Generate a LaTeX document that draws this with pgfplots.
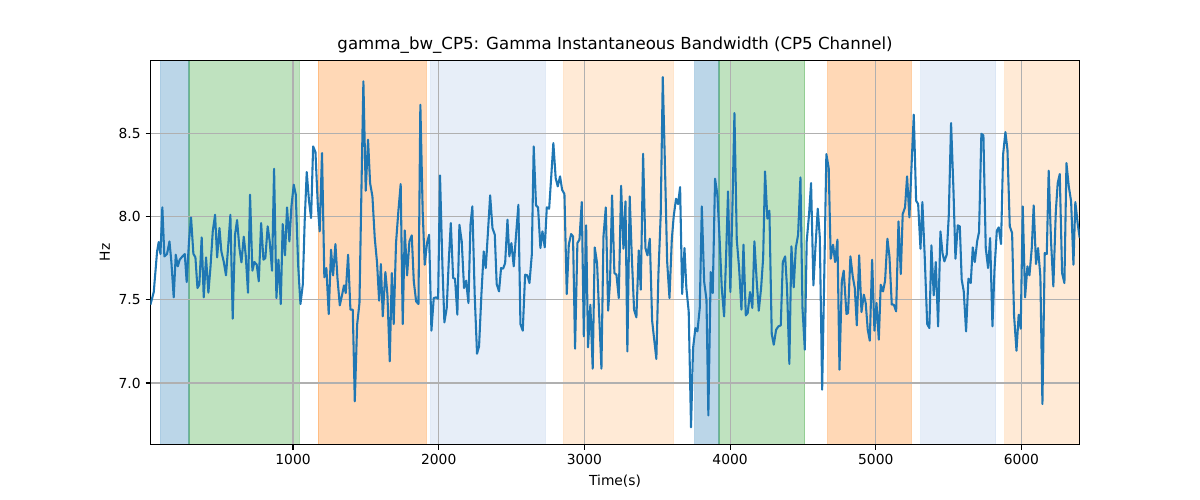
\documentclass[border=0pt]{standalone}
\usepackage{fontspec}
\setmainfont{DejaVu Sans}
\usepackage{pgfplots}
\usepackage{pgfplotstable}
\pgfplotsset{compat=1.18}
\definecolor{tabblue}{HTML}{1F77B4}
\definecolor{tablightblue}{HTML}{AEC7E8}
\definecolor{taborange}{HTML}{FF7F0E}
\definecolor{tablightorange}{HTML}{FFBB78}
\definecolor{tabgreen}{HTML}{2CA02C}
\definecolor{gridgray}{HTML}{B0B0B0}
\pgfplotstableread{
x y
21 7.47
44 7.546
67 7.79
78 7.846
90 7.774
103 8.054
117 7.76
135 7.774
152 7.85
165 7.726
181 7.514
195 7.77
209 7.70
222 7.74
241 7.76
257 7.774
270 7.606
286 7.85
300 7.994
316 7.776
330 7.754
344 7.57
357 7.59
373 7.874
387 7.514
403 7.754
419 7.542
433 7.69
449 7.91
465 8.01
479 7.754
495 7.93
508 7.79
524 7.73
540 7.646
554 7.81
570 8.01
586 7.386
602 7.89
616 7.978
632 7.81
646 7.724
662 7.878
675 7.77
691 7.542
705 8.13
721 7.674
735 7.726
751 7.71
765 7.61
781 7.96
797 7.74
810 7.75
826 7.94
840 7.85
856 7.674
870 8.286
886 7.51
900 7.74
916 7.474
929 7.954
945 7.766
959 8.054
975 7.85
989 8.06
1005 8.19
1019 8.13
1035 7.71
1051 7.474
1067 7.59
1080 7.97
1094 8.266
1110 8.09
1124 7.99
1138 8.42
1154 8.386
1170 8.07
1183 7.91
1199 8.38
1215 7.634
1229 7.69
1245 7.414
1261 7.80
1275 7.646
1291 7.834
1305 7.63
1321 7.466
1337 7.53
1350 7.586
1362 7.54
1378 7.77
1394 7.44
1410 7.44
1424 6.89
1440 7.35
1456 7.48
1469 8.13
1483 8.81
1499 8.154
1515 8.46
1529 8.20
1545 8.12
1561 7.87
1577 7.72
1591 7.494
1603 7.714
1616 7.40
1634 7.666
1648 7.53
1664 7.13
1678 7.66
1691 7.354
1707 7.84
1723 8.03
1739 8.194
1753 7.354
1767 7.916
1783 7.646
1799 7.85
1815 7.886
1829 7.61
1845 7.49
1861 7.474
1874 8.67
1890 8.03
1904 7.71
1920 7.84
1934 7.89
1950 7.314
1966 7.51
1982 7.514
1996 7.506
2009 8.246
2026 7.69
2039 7.364
2055 7.45
2069 7.73
2083 7.96
2099 7.63
2112 7.626
2128 7.41
2142 7.95
2158 7.85
2174 7.57
2188 7.614
2204 7.48
2218 7.95
2231 8.06
2247 7.53
2263 7.176
2277 7.22
2293 7.53
2309 7.79
2323 7.69
2339 7.92
2353 8.126
2369 7.93
2385 7.89
2398 7.594
2414 7.55
2428 7.69
2442 7.686
2456 7.72
2472 7.98
2485 7.76
2499 7.84
2515 7.70
2531 7.89
2547 8.07
2561 7.354
2577 7.314
2593 7.65
2609 7.646
2623 7.60
2639 7.77
2652 8.42
2668 8.066
2682 8.054
2698 7.81
2712 7.91
2728 7.814
2742 8.054
2758 8.046
2774 8.26
2787 8.44
2803 8.23
2817 8.18
2833 8.24
2847 8.16
2863 8.134
2879 7.534
2893 7.83
2909 7.894
2922 7.88
2936 7.206
2952 7.84
2966 7.86
2982 8.086
2996 7.28
3012 7.946
3025 7.214
3041 7.47
3057 7.086
3071 7.814
3087 7.72
3101 7.42
3117 7.086
3131 7.88
3147 8.054
3163 7.434
3176 7.61
3190 8.126
3206 7.66
3220 7.65
3236 7.51
3252 8.184
3268 7.806
3282 8.09
3295 7.19
3311 8.12
3325 7.77
3341 7.44
3357 7.394
3373 7.796
3387 7.56
3403 8.376
3419 7.81
3433 7.766
3449 7.866
3465 7.374
3478 7.27
3494 7.144
3508 7.65
3524 8.014
3538 8.836
3554 8.27
3568 7.73
3584 7.51
3600 7.86
3613 8.0
3629 8.106
3643 8.074
3657 8.176
3671 7.534
3687 7.81
3700 7.57
3716 7.43
3732 6.734
3746 7.21
3762 7.33
3776 7.31
3792 7.45
3806 8.06
3822 7.61
3838 7.50
3851 6.806
3867 7.666
3881 7.54
3897 8.226
3913 8.13
3929 7.85
3943 7.57
3959 7.40
3973 7.77
3986 8.15
4002 7.546
4016 8.05
4030 8.62
4046 7.86
4062 7.69
4078 7.44
4092 7.83
4108 7.406
4121 7.42
4137 7.546
4153 7.45
4167 7.85
4183 7.61
4197 7.434
4213 7.57
4227 7.75
4240 8.27
4256 7.986
4270 8.034
4286 7.294
4300 7.23
4316 7.32
4332 7.34
4348 7.346
4362 7.726
4378 7.76
4391 7.57
4407 7.114
4421 7.82
4437 7.574
4451 7.81
4467 7.89
4483 8.234
4497 7.45
4513 7.20
4526 7.85
4542 8.01
4556 8.20
4572 7.586
4586 7.814
4602 8.046
4616 7.874
4632 6.96
4645 7.57
4661 8.374
4677 8.29
4691 7.746
4707 7.83
4721 7.726
4737 7.86
4751 7.08
4767 7.61
4780 7.674
4799 7.414
4810 7.42
4826 7.76
4842 7.64
4856 7.57
4870 7.346
4886 7.766
4902 7.426
4918 7.53
4931 7.48
4945 7.32
4959 7.254
4975 7.74
4991 7.314
5005 7.48
5021 7.26
5034 7.59
5050 7.55
5064 7.614
5080 7.866
5094 7.76
5110 7.47
5124 7.47
5140 7.43
5156 7.97
5172 7.654
5185 8.014
5201 8.054
5215 8.24
5231 7.994
5245 8.29
5261 8.61
5277 8.094
5291 8.074
5307 7.806
5320 8.086
5336 7.76
5353 7.354
5368 7.33
5382 7.826
5398 7.526
5412 7.726
5428 7.34
5444 7.91
5458 7.78
5471 7.73
5487 7.77
5501 8.0
5517 8.56
5533 8.17
5547 7.746
5563 7.946
5577 7.94
5590 7.62
5604 7.55
5620 7.31
5636 7.626
5652 7.60
5666 7.814
5680 7.726
5696 7.85
5709 7.906
5725 8.496
5739 8.486
5755 7.81
5771 7.69
5785 7.87
5801 7.34
5815 7.68
5831 7.914
5844 7.934
5860 7.834
5874 8.37
5890 8.506
5904 8.40
5920 7.94
5936 7.90
5949 7.41
5966 7.194
5981 7.41
5995 7.326
6009 8.06
6025 7.514
6041 7.70
6055 7.646
6071 7.81
6084 8.066
6100 7.714
6114 7.81
6130 7.64
6144 6.874
6160 7.78
6174 7.774
6187 8.274
6203 7.854
6219 7.58
6236 8.03
6249 8.20
6263 8.254
6279 7.66
6295 7.60
6309 8.32
6325 8.18
6341 8.09
6357 7.71
6370 8.086
6387 7.95
6400 7.87
}\datatable
\pgfplotsset{
  band/.style={fill=#1, fill opacity=0.3, draw=#1, draw opacity=0.3, line width=0.8pt, forget plot, on layer=axis background},
  every axis title/.style={at={(0.5,1)}, anchor=center, yshift=0.148in},
}
\begin{document}
\begin{tikzpicture}
\path (0,0) rectangle (12in,5in);
\begin{axis}[
  set layers=standard,
  scale only axis,
  width=9.293in, height=3.843in,
  at={(1.504in,0.553in)}, anchor=south west,
  xmin=21, xmax=6400, ymin=6.63, ymax=8.936,
  xtick={1000,2000,3000,4000,5000,6000},
  ytick={7,7.5,8,8.5},
  /pgf/number format/assume math mode=true,
  /pgf/number format/1000 sep={},
  yticklabel style={/pgf/number format/.cd, fixed, fixed zerofill, precision=1},
  scaled x ticks=false, scaled y ticks=false,
  tick pos=left,
  tick align=outside,
  major tick length=3.5pt,
  tick style={black, line width=0.8pt},
  axis line style={line width=0.8pt},
  grid=major,
  grid style={color=gridgray, line width=0.8pt},
  ticklabel style={font=\fontsize{10}{12}\selectfont},
  xlabel={Time(s)}, ylabel={Hz},
  label style={font=\fontsize{10}{12}\selectfont},
  xlabel style={at={(axis description cs:0.5,0)}, anchor=center, yshift=-0.36in},
  ylabel style={at={(axis description cs:-0.049,0.5)}, anchor=center},
  title={gamma\_bw\_CP5: Gamma Instantaneous Bandwidth (CP5 Channel)},
  title style={font=\fontsize{12}{14}\selectfont},
  clip=true,
]
\addplot[band=tabblue] coordinates {(92,6.63) (286,6.63) (286,8.936) (92,8.936) (92,6.63)};
\addplot[band=tabgreen] coordinates {(286,6.63) (1044,6.63) (1044,8.936) (286,8.936) (286,6.63)};
\addplot[band=taborange] coordinates {(1172,6.63) (1916,6.63) (1916,8.936) (1172,8.936) (1172,6.63)};
\addplot[band=tablightblue] coordinates {(1945,6.63) (2733,6.63) (2733,8.936) (1945,8.936) (1945,6.63)};
\addplot[band=tablightorange] coordinates {(2858,6.63) (3611,6.63) (3611,8.936) (2858,8.936) (2858,6.63)};
\addplot[band=tabblue] coordinates {(3758,6.63) (3924,6.63) (3924,8.936) (3758,8.936) (3758,6.63)};
\addplot[band=tabgreen] coordinates {(3924,6.63) (4513,6.63) (4513,8.936) (3924,8.936) (3924,6.63)};
\addplot[band=taborange] coordinates {(4670,6.63) (5245,6.63) (5245,8.936) (4670,8.936) (4670,6.63)};
\addplot[band=tablightblue] coordinates {(5309,6.63) (5822,6.63) (5822,8.936) (5309,8.936) (5309,6.63)};
\addplot[band=tablightorange] coordinates {(5886,6.63) (6400,6.63) (6400,8.936) (5886,8.936) (5886,6.63)};
\addplot[color=tabblue, line width=1.5pt, mark=none, line join=round] table[x=x,y=y] {\datatable};
\end{axis}
\end{tikzpicture}
\end{document}
